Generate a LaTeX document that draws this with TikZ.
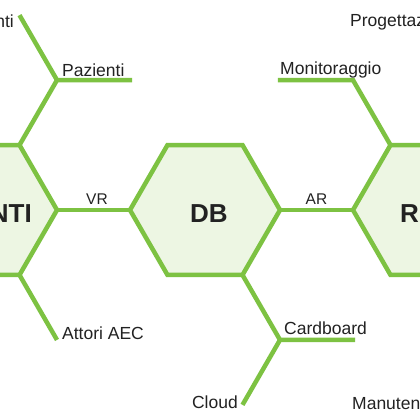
\documentclass[tikz,border=0pt]{standalone}
\usepackage{fontspec}
\setmainfont{Liberation Sans}
\usetikzlibrary{shapes.geometric,calc}
\definecolor{lime}{HTML}{7DC242}
\definecolor{hexfill}{HTML}{EDF6E3}
\definecolor{ink}{HTML}{222222}
\begin{document}
\begin{tikzpicture}[x=1bp,y=-1bp,
  hexbox/.style={regular polygon, regular polygon sides=6, minimum size=150bp, draw=lime, fill=hexfill, line width=4.5bp, inner sep=0pt, outer sep=0pt},
  link/.style={draw=lime, line width=4.5bp},
  lbl/.style={font=\fontsize{17.5bp}{20bp}\selectfont, text=ink, inner sep=0pt},
  small/.style={font=\fontsize{15.5bp}{18bp}\selectfont, text=ink, inner sep=0pt},
  big/.style={font=\bfseries\fontsize{26bp}{30bp}\selectfont, text=ink, inner sep=0pt}]
\useasboundingbox (0,0) rectangle (420,420);
\clip (0,0) rectangle (420,420);
\fill[white] (0,0) rectangle (420,420);

\node[hexbox] (L) at (-18,210) {};
\node[hexbox] (M) at (205,210) {};
\node[hexbox] (R) at (428,210) {};

\coordinate (jP) at ($(L.60)+(37.5,-64.95)$);
\coordinate (pE) at ($(jP)+(75,0)$);
\coordinate (tE) at ($(jP)+(-37.5,-64.95)$);
\coordinate (aE) at ($(L.-60)+(37.5,64.95)$);
\coordinate (jM) at ($(R.120)+(-37.5,-64.95)$);
\coordinate (mE) at ($(jM)+(-75,0)$);
\coordinate (jC) at ($(M.-60)+(37.5,64.95)$);
\coordinate (cE) at ($(jC)+(75,0)$);
\coordinate (clE) at ($(jC)+(-37.5,64.95)$);

\draw[link] (L.0) -- (M.180);
\draw[link] (M.0) -- (R.180);
\draw[link] (L.60) -- (jP) -- (pE);
\draw[link] (tE) -- (jP);
\draw[link] (L.-60) -- (aE);
\draw[link] (R.120) -- (jM) -- (mE);
\draw[link] (M.-60) -- (jC) -- (cE);
\draw[link] (jC) -- (clE);

\node[small, anchor=base] (vr) at (97,204) {VR};
\node[small, anchor=base] (ar) at (316.5,204) {AR};
\node[lbl, anchor=base west] (paz) at (62,76) {Pazienti};
\node[lbl, anchor=base west] (mon) at (280,74) {Monitoraggio};
\node[lbl, anchor=base west] (card) at (284,334) {Cardboard};
\node[lbl, anchor=base west] (att) at (62,339) {Attori AEC};
\node[lbl, anchor=base east] (cloud) at (238,408) {Cloud};
\node[lbl, anchor=base west] (man) at (352,409) {Manuten};
\node[lbl, anchor=base west] (prog) at (350,26) {Progettaz};
\node[lbl, anchor=base east] (nti) at (14,27) {nti};
\node[big, anchor=base] (db) at (209,222) {DB};
\node[big, anchor=base east] (lt) at (32,222) {NTI};
\node[big, anchor=base west] (rt) at (400,222) {R};
\end{tikzpicture}
\end{document}
